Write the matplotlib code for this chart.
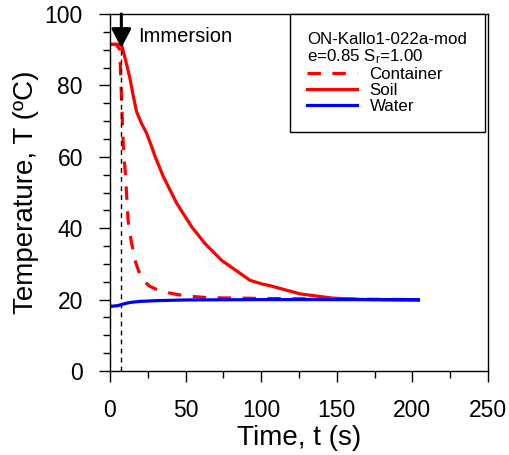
import matplotlib
matplotlib.use("Agg")
import matplotlib.pyplot as plt
from matplotlib.ticker import MultipleLocator

plt.rcParams["font.family"] = ["Liberation Sans", "DejaVu Sans"]
plt.rcParams["mathtext.fontset"] = "custom"
plt.rcParams["mathtext.rm"] = "Liberation Sans"
plt.rcParams["mathtext.it"] = "Liberation Sans"

# Container temperature (dashed red)
t_cont = [0, 4, 6.5, 7.3, 8.8, 10.2, 12.0, 14.0, 16.5, 19.0, 22.0, 26.0, 30.0, 37.5, 46.0, 54.0,
          63.0, 70.0, 88.0, 105.0, 140.0, 170.0, 204.0]
T_cont = [91.5, 91.5, 90.0, 80.0, 63.0, 55.0, 42.0, 36.5, 31.0, 28.0, 25.4, 23.8, 23.0, 22.0,
          21.3, 20.9, 20.6, 20.5, 20.4, 20.3, 20.2, 20.1, 20.0]

# Soil temperature (solid red)
t_soil = [0, 5, 7.7, 9.9, 13.2, 15.4, 17.6, 20.9, 24.2, 27.5, 29.8, 35.3, 44.1, 54, 62.8,
          73.8, 84.9, 92.6, 100.3, 105.8, 125.7, 147.5, 169.6, 185, 203.9]
T_soil = [91.5, 91.5, 91.3, 87.7, 82.0, 77.0, 72.6, 69.3, 66.6, 62.9, 60.1, 54.4, 47.0, 40.4,
          35.7, 31.0, 27.7, 25.4, 24.4, 23.9, 21.6, 20.4, 20.0, 19.9, 19.8]

# Water temperature (solid blue)
t_water = [0, 5, 7.7, 10, 13.2, 20, 30.8, 50, 100, 150, 204]
T_water = [18.1, 18.3, 18.6, 18.9, 19.2, 19.5, 19.7, 19.9, 20.0, 20.0, 20.0]

t_immersion = 7.5
T_start = 91.5

fig = plt.figure(figsize=(5.10, 4.55), dpi=100)
ax = fig.add_axes([110 / 510, 1 - 371 / 455, 378 / 510, 357 / 455])

ax.plot(t_cont, T_cont, color="#ff0000", lw=2.3, linestyle=(0, (4.2, 3.6)), label="Container")
ax.plot(t_soil, T_soil, color="#ff0000", lw=2.3, label="Soil")
ax.plot(t_water, T_water, color="#0000ff", lw=2.3, label="Water")

ax.axvline(t_immersion, ymin=0, ymax=T_start / 100, color="black", lw=1.0,
           linestyle=(0, (3.5, 3)))
ax.annotate("", xy=(t_immersion, T_start - 1.0), xytext=(t_immersion, 100),
            arrowprops=dict(arrowstyle="-|>,head_length=1.15,head_width=0.6",
                            color="black", lw=2.2, shrinkA=0, shrinkB=0))
ax.text(t_immersion + 11, 93.6, "Immersion", fontsize=14.5, va="center", ha="left")

ax.set_xlim(0, 250)
ax.set_ylim(0, 100)
ax.xaxis.set_major_locator(MultipleLocator(50))
ax.xaxis.set_minor_locator(MultipleLocator(25))
ax.yaxis.set_major_locator(MultipleLocator(20))
ax.yaxis.set_minor_locator(MultipleLocator(5))
ax.tick_params(which="both", direction="out", top=False, right=False, width=1.0)
ax.tick_params(which="major", length=8, labelsize=16.5)
ax.tick_params(axis="x", which="major", pad=12)
ax.tick_params(axis="y", which="major", pad=11.5)
ax.tick_params(which="minor", length=5)
for sp in ax.spines.values():
    sp.set_linewidth(1.0)

ax.set_xlabel("Time, t (s)", fontsize=20, labelpad=2)
ax.set_ylabel("Temperature, T (\u00baC)", fontsize=20, labelpad=4)

leg = ax.legend(title="ON-Kallo1-022a-mod\ne=0.85 S$_\\mathrm{r}$=1.00",
                loc="upper right", bbox_to_anchor=(0.992, 1.0), fontsize=12.2,
                title_fontsize=12.2, alignment="left", frameon=True, fancybox=False,
                edgecolor="black", framealpha=1, handlelength=2.95, handletextpad=0.72,
                labelspacing=0.05, borderpad=1.05, borderaxespad=0)
leg.get_title().set_linespacing(1.05)
leg.get_frame().set_linewidth(1.0)

fig.savefig("out.png", dpi=100)
